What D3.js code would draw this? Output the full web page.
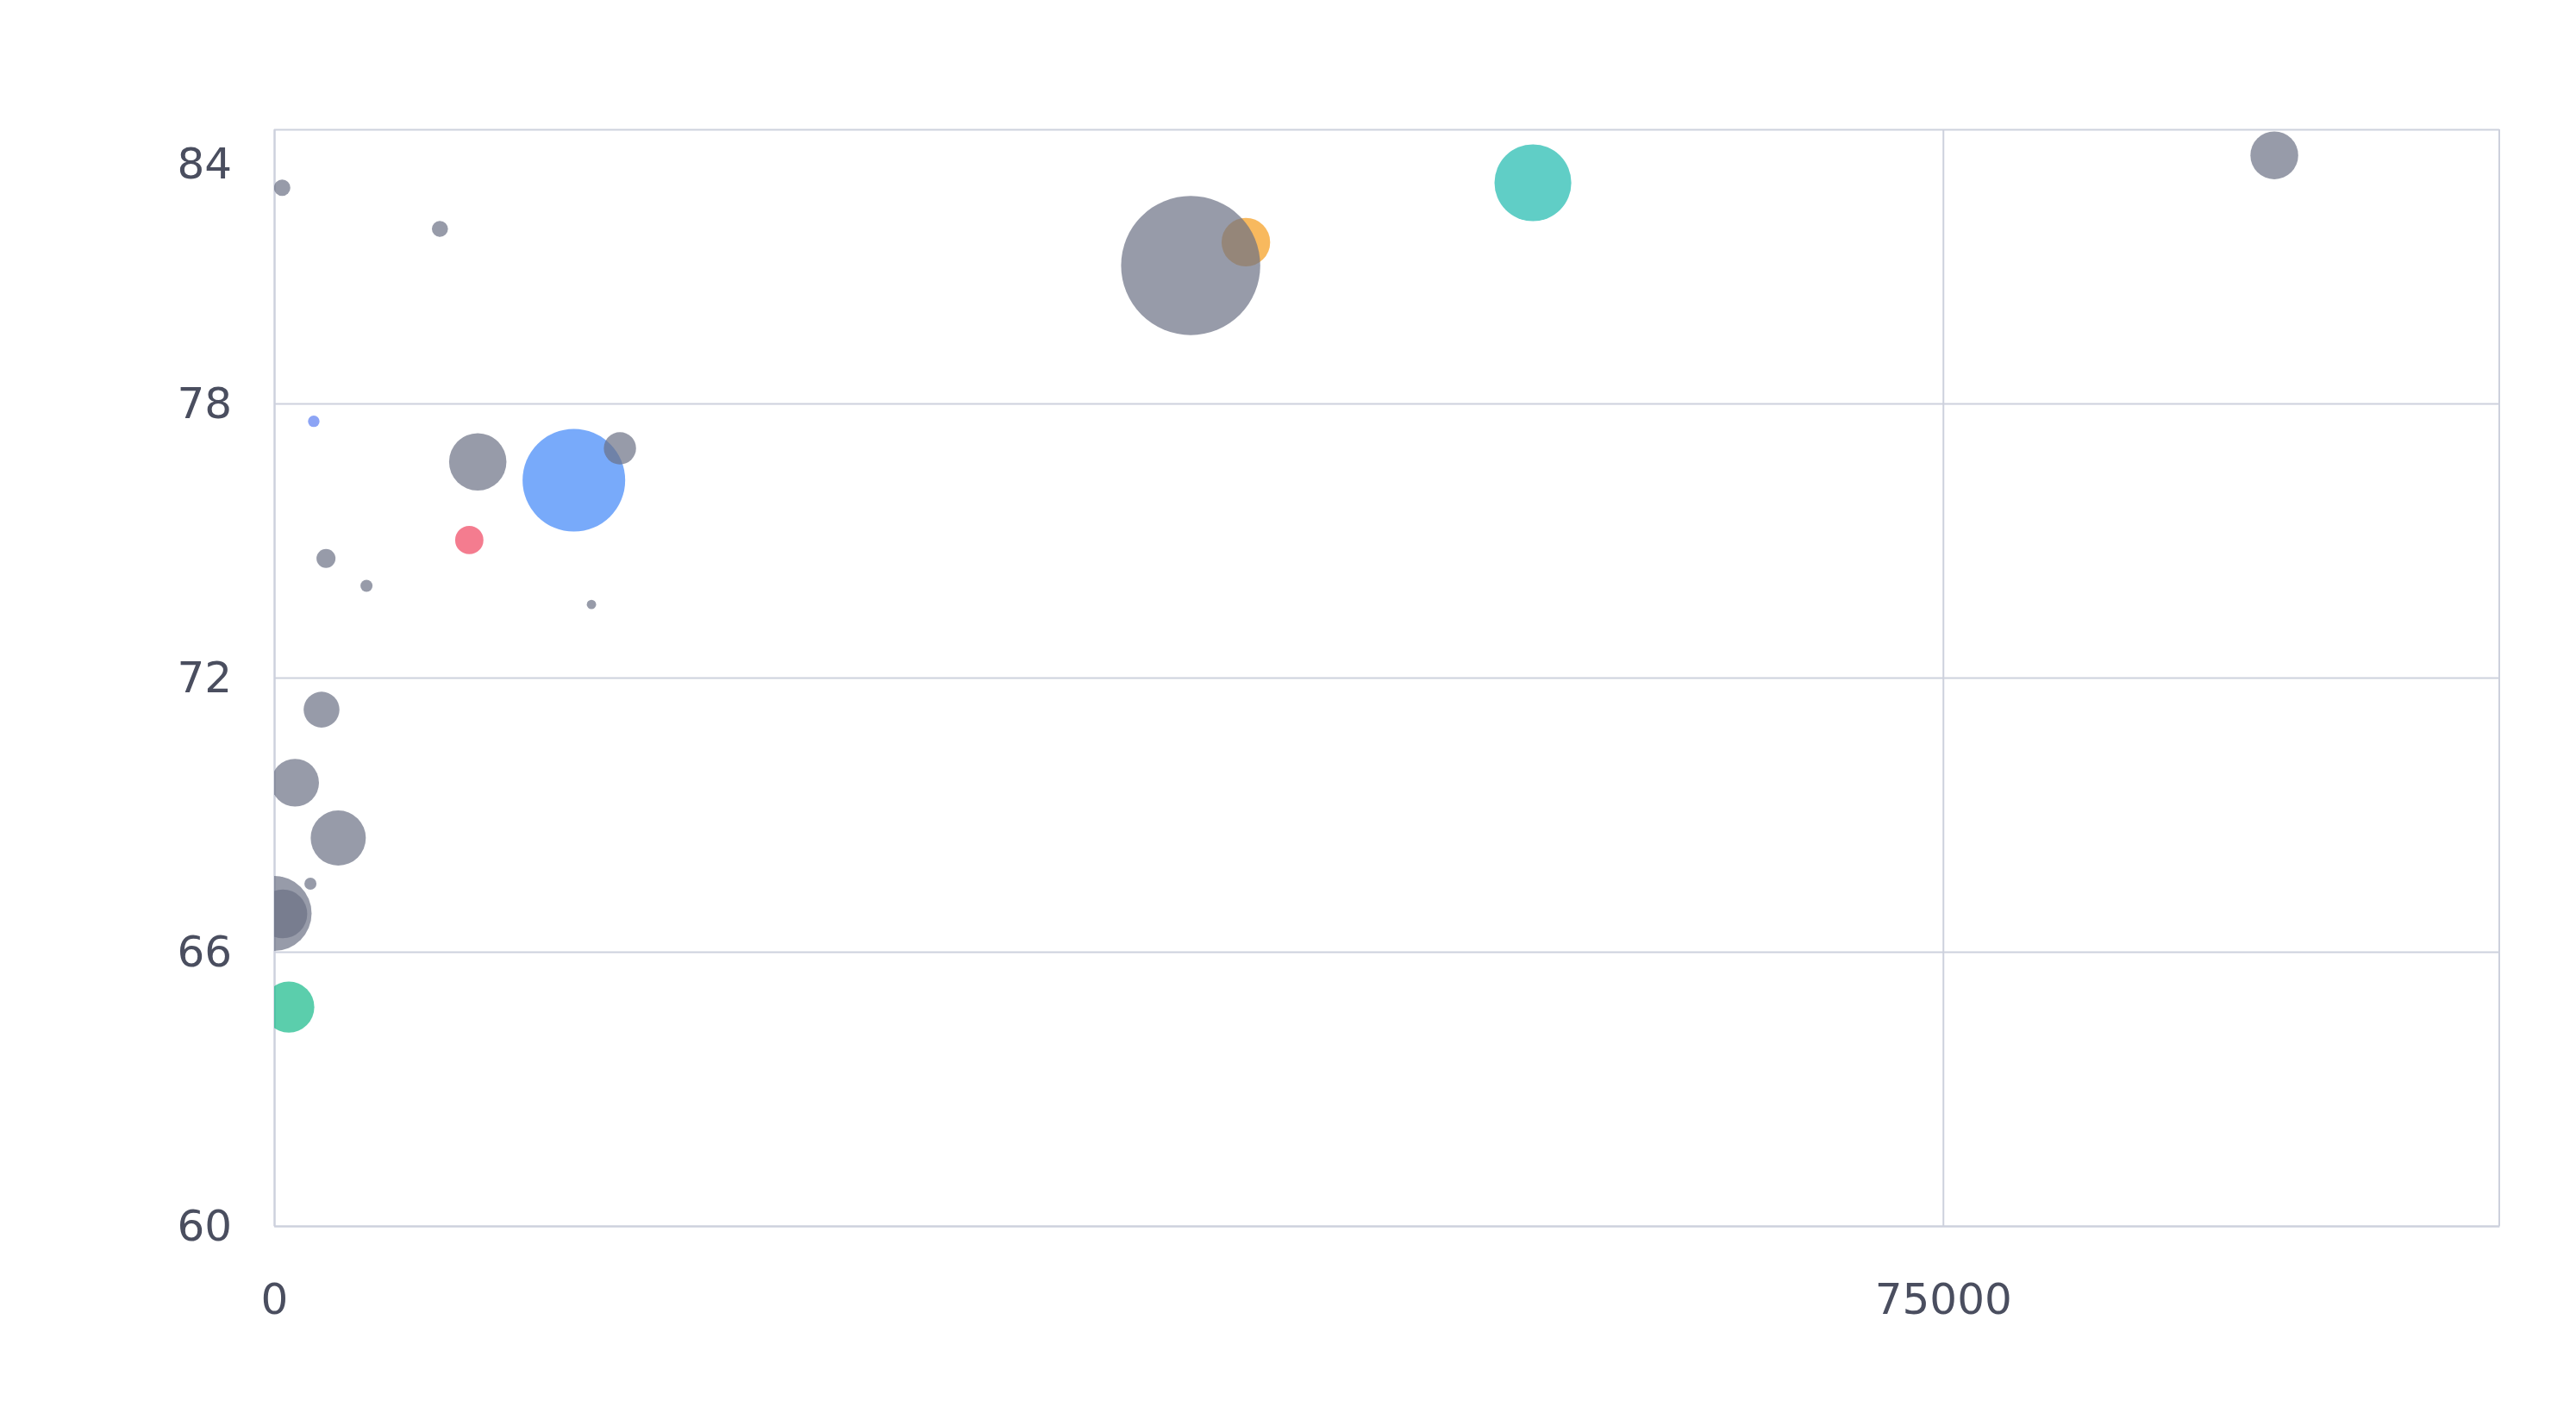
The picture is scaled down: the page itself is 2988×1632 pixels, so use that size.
<!DOCTYPE html>
<html lang="en">
<head>
    <meta charset="UTF-8">
    <title>Bubble chart</title>
    <style>
        body {
            margin: 0;
            padding: 0;
            background: #fff;
        }
        .tick text {
            font-family: "DejaVu Sans", sans-serif;
            font-size: 50px;
            fill: #4a4e5f;
        }
    </style>
</head>
<body>
    <div id="chart"></div>
    <script src="https://d3js.org/d3.v7.min.js"></script>
    <script>
        // values; colored points first so grey ones sit on top
        const gdp     = [13470, 8770, 43670, 56570, 660, 1780,
                         360, 7450, 9150, 15540, 2330, 4150, 14260, 2130, 940, 2880, 1630, 0, 390, 41190, 89890];
        const lifeExp = [76.32, 75.01, 81.53, 82.83, 64.79, 77.61,
                         82.72, 81.82, 76.72, 77.02, 74.61, 74.01, 73.60, 71.30, 69.70, 68.49, 67.49, 66.84, 66.83, 81.02, 83.43];
        const pop     = [54.4, 4.13, 12.2, 30.5, 13.4, 0.69,
                         1.39, 1.33, 17.0, 5.37, 1.86, 0.75, 0.45, 6.64, 11.8, 15.7, 0.75, 29, 12.3, 100, 11.8];
        const group   = ['blue', 'red', 'orange', 'teal', 'green', 'lightblue',
                         'other', 'other', 'other', 'other', 'other', 'other', 'other', 'other', 'other', 'other', 'other', 'other', 'other', 'other', 'other'];

        const xTicks = [0, 75000];
        const yTicks = [60, 66, 72, 78, 84];

        const points = gdp.map((g, i) => ({ gdp: g, life: lifeExp[i], pop: pop[i], group: group[i] }));

        const W = 2988, H = 1632;
        const margin = { top: 150, right: 89, bottom: 210, left: 318 };
        const width = W - margin.left - margin.right;
        const height = H - margin.top - margin.bottom;

        const svg = d3.select('#chart').append('svg')
            .attr('width', W)
            .attr('height', H);

        const g = svg.append('g')
            .attr('transform', `translate(${margin.left},${margin.top})`);

        const x = d3.scaleLinear().domain([0, 100000]).range([0, width]);
        const y = d3.scaleLinear().domain([60, 84]).range([height, 0]);
        const r = d3.scaleSqrt().domain([0, 100]).range([0, 80.7]);
        const color = d3.scaleOrdinal()
            .domain(['blue', 'red', 'orange', 'teal', 'green', 'lightblue', 'other'])
            .range(['#3e86f8', '#ef445f', '#f59b1a', '#1cb9ae', '#16b989', '#5b7ef1', '#6b7185']);

        const gridColor = '#cdd1dd';

        // horizontal grid
        g.append('g')
            .call(d3.axisLeft(y).tickValues(yTicks).tickSize(-width).tickFormat(''))
            .call(s => s.select('.domain').remove())
            .call(s => s.selectAll('line').attr('stroke', gridColor).attr('stroke-width', 2));

        // vertical grid
        g.append('g')
            .attr('transform', `translate(0,${height})`)
            .call(d3.axisBottom(x).tickValues(xTicks).tickSize(-height).tickFormat(''))
            .call(s => s.select('.domain').remove())
            .call(s => s.selectAll('line').attr('stroke', gridColor).attr('stroke-width', 2));

        // right border
        g.append('line')
            .attr('x1', x(100000)).attr('x2', x(100000))
            .attr('y1', 0).attr('y2', height)
            .attr('stroke', gridColor).attr('stroke-width', 2);

        // y labels
        const yAxis = g.append('g')
            .call(d3.axisLeft(y).tickValues(yTicks).tickSize(0).tickPadding(49))
            .call(s => s.select('.domain').attr('stroke', gridColor).attr('stroke-width', 2));
        yAxis.selectAll('.tick text')
            .filter(d => d === 84)
            .attr('dy', '1.12em');

        // x labels
        g.append('g')
            .attr('transform', `translate(0,${height})`)
            .call(d3.axisBottom(x).tickValues(xTicks).tickSize(0).tickPadding(66).tickFormat(d3.format('d')))
            .call(s => s.select('.domain').attr('stroke', gridColor).attr('stroke-width', 2));

        svg.append('clipPath').attr('id', 'plot-clip')
            .append('rect').attr('width', width).attr('height', height);

        g.append('g')
            .attr('clip-path', 'url(#plot-clip)')
            .selectAll('circle')
            .data(points)
            .join('circle')
            .attr('cx', d => x(d.gdp))
            .attr('cy', d => y(d.life))
            .attr('r', d => r(d.pop))
            .attr('fill', d => color(d.group))
            .attr('fill-opacity', 0.7);
    </script>
</body>
</html>
